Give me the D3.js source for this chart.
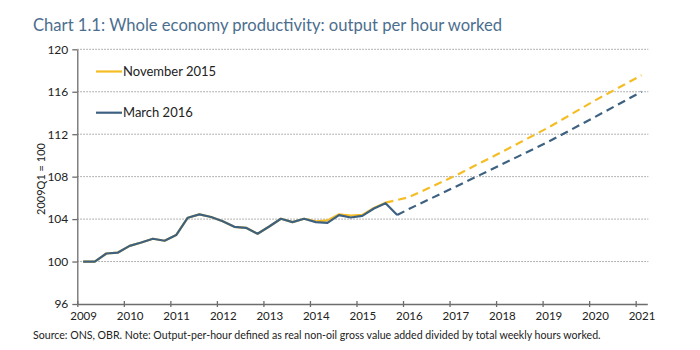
<!DOCTYPE html>
<html>
<head>
<meta charset="utf-8">
<script src="https://cdn.jsdelivr.net/npm/d3@7"></script>
<style>
  html, body { margin: 0; padding: 0; background: #fff; }
  svg { display: block; }
  text { font-family: Lato, "Open Sans", sans-serif; }
</style>
</head>
<body>
<svg id="chart" width="700" height="350"></svg>
<script>
// ---------- data ----------
const titleText = "Chart 1.1: Whole economy productivity: output per hour worked";
const yAxisTitle = "2009Q1 = 100";
const sourceText = "Source: ONS, OBR. Note: Output-per-hour defined as real non-oil gross value added divided by total weekly hours worked.";

const yearTicks = [2009, 2010, 2011, 2012, 2013, 2014, 2015, 2016, 2017, 2018, 2019, 2020, 2021];
const yTicks = [96, 100, 104, 108, 112, 116, 120];

const seriesNames = ["November 2015", "March 2016"];

// Outturn quarters
const marchQuarters = [
  "2009Q1","2009Q2","2009Q3","2009Q4",
  "2010Q1","2010Q2","2010Q3","2010Q4",
  "2011Q1","2011Q2","2011Q3","2011Q4",
  "2012Q1","2012Q2","2012Q3","2012Q4",
  "2013Q1","2013Q2","2013Q3","2013Q4",
  "2014Q1","2014Q2","2014Q3","2014Q4",
  "2015Q1","2015Q2","2015Q3","2015Q4"
];
const marchActual = [
  100.0, 100.0, 100.76, 100.85,
  101.48, 101.8, 102.15, 101.96,
  102.5, 104.13, 104.45, 104.2,
  103.8, 103.27, 103.18, 102.62,
  103.3, 104.03, 103.72, 104.03,
  103.72, 103.65, 104.38, 104.15,
  104.3, 105.0, 105.5, 104.38
];

const novQuarters = marchQuarters.slice(0, 27);
const novActual = [
  100.0, 100.0, 100.76, 100.85,
  101.48, 101.8, 102.15, 101.96,
  102.5, 104.13, 104.45, 104.2,
  103.8, 103.27, 103.18, 102.62,
  103.3, 104.03, 103.72, 104.03,
  103.78, 103.88, 104.45, 104.32,
  104.4, 105.05, 105.55
];

// Forecasts
const novForecastQuarters = ["2015Q3","2016Q1","2017Q1","2018Q1","2019Q1","2020Q1","2021Q1"];
const novForecast = [105.55, 106.06, 108.09, 110.33, 112.63, 115.18, 117.55];

const marchForecastQuarters = ["2015Q4","2016Q1","2017Q1","2018Q1","2019Q1","2020Q1","2021Q1"];
const marchForecast = [104.38, 104.95, 107.04, 109.16, 111.29, 113.62, 116.0];

// ---------- styles ----------
const colNov = "#f5bd25";
const colMar = "#3d6180";
const titleColor = "#4c6e8e";

// ---------- layout ----------
const svg = d3.select("#chart");
const X0 = 77.3, X1 = 647.3, Y0 = 304, Y1 = 49.3;

const qToYear = q => { const y = +q.slice(0, 4), n = +q.slice(5); return y + (n - 0.5) / 4; };

const x = d3.scaleLinear().domain([2009, 2021.25]).range([X0, X1]);
const y = d3.scaleLinear().domain([96, 120]).range([Y0, Y1]);

// title
svg.append("text")
  .attr("x", 33).attr("y", 30.5)
  .attr("fill", titleColor)
  .style("font-size", "16.6px")
  .text(titleText);

// gridlines
svg.append("g")
  .selectAll("line")
  .data(yTicks.filter(v => v > 96))
  .join("line")
  .attr("x1", X0).attr("x2", X1 + 1)
  .attr("y1", d => y(d)).attr("y2", d => y(d))
  .attr("stroke", "#9a9a9a")
  .attr("stroke-width", 1)
  .attr("stroke-dasharray", "1.5,1.5");

// y axis
const yAxis = d3.axisLeft(y).tickValues(yTicks).tickSize(5).tickPadding(4).tickSizeOuter(0);
const gy = svg.append("g").attr("transform", `translate(${X0},0)`).call(yAxis);
gy.select(".domain").attr("stroke", "#6d6d6d").attr("stroke-width", 1.3);
gy.selectAll(".tick line").attr("stroke", "#6d6d6d").attr("stroke-width", 1.3);
gy.selectAll(".tick text").attr("fill", "#222").style("font-size", "12px").style("font-family", "Lato, sans-serif");

// x axis
const xAxis = d3.axisBottom(x).tickValues(yearTicks).tickSize(0).tickFormat("");
const gx = svg.append("g").attr("transform", `translate(0,${Y0})`).call(xAxis);
gx.select(".domain").attr("stroke", "#6d6d6d").attr("stroke-width", 1.3);
gx.selectAll(".tick").append("line")
  .attr("y1", -3).attr("y2", 3)
  .attr("stroke", "#6d6d6d").attr("stroke-width", 1.3);
gx.selectAll(".tick").append("text")
  .attr("x", x(2009.125) - x(2009))
  .attr("y", 15.5)
  .attr("fill", "#222")
  .attr("text-anchor", "middle")
  .style("font-size", "11.5px")
  .style("font-family", "Lato, sans-serif")
  .text(d => d);

// y axis title
svg.append("text")
  .attr("transform", `translate(45,179) rotate(-90)`)
  .attr("text-anchor", "middle")
  .attr("fill", "#222")
  .style("font-size", "11px")
  .text(yAxisTitle);

// lines
const line = d3.line().x(d => x(d[0])).y(d => y(d[1]));
const pts = (qs, vs) => qs.map((q, i) => [qToYear(q), vs[i]]);

svg.append("path").datum(pts(novForecastQuarters, novForecast))
  .attr("d", line).attr("fill", "none").attr("stroke", colNov)
  .attr("stroke-width", 2.2).attr("stroke-dasharray", "8,5");
svg.append("path").datum(pts(marchForecastQuarters, marchForecast))
  .attr("d", line).attr("fill", "none").attr("stroke", colMar)
  .attr("stroke-width", 2.2).attr("stroke-dasharray", "8,5");
svg.append("path").datum(pts(novQuarters, novActual))
  .attr("d", line).attr("fill", "none").attr("stroke", colNov)
  .attr("stroke-width", 2.2).attr("stroke-linejoin", "round");
svg.append("path").datum(pts(marchQuarters, marchActual))
  .attr("d", line).attr("fill", "none").attr("stroke", colMar)
  .attr("stroke-width", 2.2).attr("stroke-linejoin", "round");

// legend
const legend = svg.append("g");
const legRows = [{name: seriesNames[0], col: colNov, yy: 71.5}, {name: seriesNames[1], col: colMar, yy: 112.7}];
legRows.forEach(r => {
  legend.append("line").attr("x1", 96).attr("x2", 122).attr("y1", r.yy).attr("y2", r.yy)
    .attr("stroke", r.col).attr("stroke-width", 2.2);
  legend.append("text").attr("x", 123).attr("y", r.yy + 4.5)
    .attr("fill", "#222").style("font-size", "13px").text(r.name);
});

// source note
svg.append("text")
  .attr("x", 33).attr("y", 339)
  .attr("fill", "#222")
  .style("font-size", "10.6px")
  .text(sourceText);
</script>
</body>
</html>
